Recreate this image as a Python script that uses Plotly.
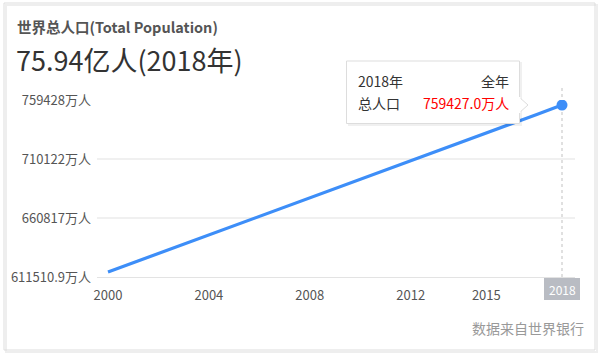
import plotly.graph_objects as go

years = list(range(2000, 2019))
population = [615700, 623400, 631100, 638800, 646500, 654200, 662000, 669800,
              677600, 685400, 693200, 701000, 708800, 716500, 724200, 731900,
              739600, 747400, 755200]
y_tickvals = [611510.9, 660817, 710122, 759428]
y_ticktext = ["611510.9万人", "660817万人", "710122万人", "759428万人"]
x_tickvals = [2000, 2004, 2008, 2012, 2015]
x_ticktext = ["2000", "2004", "2008", "2012", "2015"]

FONT = "Noto Sans CJK SC, Noto Sans, sans-serif"
W, H = 602, 356
L, R, T, B = 97, 575, 100, 277

def X(px):
    return (px - L) / (R - L)

def Y(py):
    return (B - py) / (B - T)

fig = go.Figure()
fig.add_trace(go.Scatter(
    x=years, y=population, mode="lines",
    line=dict(color="#3d8ef8", width=3.2), hoverinfo="skip"))
fig.add_trace(go.Scatter(
    x=[years[-1]], y=[population[-1]], mode="markers",
    marker=dict(color="#3d8ef8", size=11), hoverinfo="skip"))

shapes = []
# card border
shapes.append(dict(type="rect", xref="paper", yref="paper",
                   x0=X(6), x1=X(597), y0=Y(352), y1=Y(5),
                   line=dict(color="#eeeeee", width=2), fillcolor="rgba(0,0,0,0)", layer="below"))
shapes.append(dict(type="rect", xref="paper", yref="paper",
                   x0=X(4), x1=X(595), y0=Y(350), y1=Y(3),
                   line=dict(color="#dddddd", width=1), fillcolor="rgba(0,0,0,0)", layer="below"))
# crosshair dotted line
shapes.append(dict(type="line", xref="x", yref="paper", x0=2018, x1=2018,
                   y0=0, y1=Y(88), line=dict(color="#cccccc", width=1.2, dash="dot"), layer="below"))
# tooltip shadow and box
shapes.append(dict(type="rect", xref="paper", yref="paper",
                   x0=X(348), x1=X(522), y0=Y(126), y1=Y(62),
                   line=dict(width=0), fillcolor="rgba(0,0,0,0.06)"))
shapes.append(dict(type="path", xref="paper", yref="paper",
                   path=f"M {X(519)},{Y(97)} L {X(528)},{Y(105)} L {X(519)},{Y(113)} Z",
                   line=dict(color="#dddddd", width=1), fillcolor="white"))
shapes.append(dict(type="rect", xref="paper", yref="paper",
                   x0=X(346.5), x1=X(519.5), y0=Y(123.5), y1=Y(61),
                   line=dict(color="#dddddd", width=1), fillcolor="white"))
shapes.append(dict(type="rect", xref="paper", yref="paper",
                   x0=X(518.5), x1=X(520.5), y0=Y(113), y1=Y(97),
                   line=dict(width=0), fillcolor="white"))
# x axis pointer label box
shapes.append(dict(type="rect", xref="paper", yref="paper",
                   x0=X(544), x1=X(580), y0=Y(300), y1=Y(278),
                   line=dict(width=0), fillcolor="#b9bcc3"))

annotations = [
    dict(text="<b>世界总人口(Total Population)</b>", x=X(15), y=Y(26), xanchor="left", yanchor="middle",
         font=dict(family=FONT, size=14.5, color="#555555")),
    dict(text="75.94亿人(2018年)", x=X(14), y=Y(59), xanchor="left", yanchor="middle",
         font=dict(family=FONT, size=27, color="#333333")),
    dict(text="2018年", x=X(356), y=Y(81), xanchor="left", yanchor="middle",
         font=dict(family=FONT, size=14, color="#333333")),
    dict(text="全年", x=X(511), y=Y(81), xanchor="right", yanchor="middle",
         font=dict(family=FONT, size=14, color="#333333")),
    dict(text="总人口", x=X(356), y=Y(103), xanchor="left", yanchor="middle",
         font=dict(family=FONT, size=14, color="#333333")),
    dict(text="759427.0万人", x=X(511), y=Y(103), xanchor="right", yanchor="middle",
         font=dict(family=FONT, size=14, color="#ff0000")),
    dict(text="2018", x=X(562), y=Y(289), xanchor="center", yanchor="middle",
         font=dict(family=FONT, size=12, color="#ffffff")),
    dict(text="数据来自世界银行", x=X(586), y=Y(328), xanchor="right", yanchor="middle",
         font=dict(family=FONT, size=14, color="#999999")),
]
for a in annotations:
    a.update(xref="paper", yref="paper", showarrow=False)

fig.update_layout(
    width=W, height=H,
    margin=dict(l=L, r=W - R, t=T, b=H - B, pad=0),
    paper_bgcolor="white", plot_bgcolor="white",
    showlegend=False,
    shapes=shapes, annotations=annotations,
    xaxis=dict(range=[2000 - 11 / 25.22, 2018 + 13 / 25.22], tickvals=x_tickvals, ticktext=x_ticktext,
               showgrid=False, zeroline=False, showline=True, linecolor="#e3e3e3", linewidth=1,
               ticks="", ticklabelstandoff=6,
               tickfont=dict(family=FONT, size=13, color="#555555")),
    yaxis=dict(range=[611510.9, 759428], tickvals=y_tickvals, ticktext=y_ticktext,
               showgrid=True, gridcolor="#f0f0f0", gridwidth=2, zeroline=False, showline=False,
               ticks="", ticklabelstandoff=5,
               tickfont=dict(family=FONT, size=13, color="#555555")),
)

fig.write_html("out.html", config={"displayModeBar": False},
               post_script="document.body.style.margin='0';document.body.style.overflow='hidden';")
